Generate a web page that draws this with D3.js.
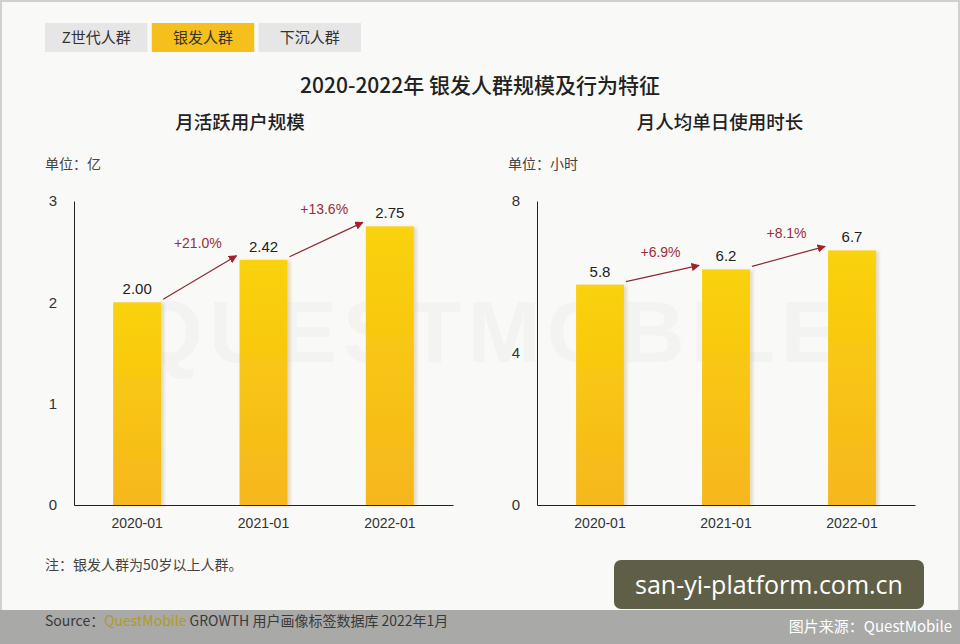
<!DOCTYPE html>
<html>
<head>
<meta charset="utf-8">
<script src="https://cdn.jsdelivr.net/npm/d3@7"></script>
<style>
  body { margin: 0; background: #f9f9f7; }
  svg { display: block; font-family: "Liberation Sans", "Noto Sans CJK SC", sans-serif; }
</style>
</head>
<body>
<div id="chart"></div>
<script>
// données
const tabs = ["Z世代人群", "银发人群", "下沉人群"];
const activeTab = "银发人群";
const years = ["2020-01", "2021-01", "2022-01"];
const mauValues = [2.00, 2.42, 2.75];
const mauGrowth = ["+21.0%", "+13.6%"];
const mauTicks = [0, 1, 2, 3];
const timeValues = [5.8, 6.2, 6.7];
const timeGrowth = ["+6.9%", "+8.1%"];
const timeTicks = [0, 4, 8];

const W = 960, H = 644;
const cjk = "\"Noto Sans CJK SC\", sans-serif";

const svg = d3.select("#chart").append("svg")
    .attr("width", W)
    .attr("height", H);

const defs = svg.append("defs");
const grad = defs.append("linearGradient")
    .attr("id", "barGrad")
    .attr("x1", 0).attr("y1", 0).attr("x2", 0).attr("y2", 1);
grad.append("stop").attr("offset", "0%").attr("stop-color", "#fad20a");
grad.append("stop").attr("offset", "100%").attr("stop-color", "#f6b71e");

defs.append("filter").attr("id", "shadow")
    .append("feDropShadow")
    .attr("dx", 3).attr("dy", 1).attr("stdDeviation", 1.5)
    .attr("flood-color", "#c9b88a").attr("flood-opacity", 0.45);

defs.append("marker")
    .attr("id", "arrow")
    .attr("viewBox", "0 0 10 10")
    .attr("refX", 9).attr("refY", 5)
    .attr("markerWidth", 7).attr("markerHeight", 7)
    .attr("orient", "auto")
    .append("path")
    .attr("d", "M0,0 L10,5 L0,10 Z")
    .attr("fill", "#a3202c");

// fond + cadre
svg.append("rect").attr("width", W).attr("height", H).attr("fill", "#f9f9f7");
svg.append("rect").attr("x", 1).attr("y", 1).attr("width", W - 2).attr("height", H - 2)
    .attr("fill", "none").attr("stroke", "#d0d0d0").attr("stroke-width", 2);

// filigrane (très pâle)
svg.append("text")
    .attr("x", 490).attr("y", 362)
    .attr("text-anchor", "middle")
    .attr("font-size", 88)
    .attr("font-weight", "bold")
    .attr("letter-spacing", 6)
    .attr("fill", "#f3f3f1")
    .text("QUESTMOBILE");

// onglets
const tabX = d3.scaleBand().domain(tabs).range([45, 361]).paddingInner(0.04);
svg.selectAll(".tab").data(tabs).enter().append("rect")
    .attr("x", d => tabX(d))
    .attr("y", 23)
    .attr("width", tabX.bandwidth())
    .attr("height", 29)
    .attr("fill", d => d === activeTab ? "#f5bf1c" : "#e6e6e6");
svg.selectAll(".tabLabel").data(tabs).enter().append("text")
    .attr("x", d => tabX(d) + tabX.bandwidth() / 2)
    .attr("y", 43)
    .attr("text-anchor", "middle")
    .attr("font-family", cjk)
    .attr("font-size", 15)
    .attr("fill", "#333")
    .text(d => d);

// titre
svg.append("text")
    .attr("x", 480).attr("y", 93)
    .attr("text-anchor", "middle")
    .attr("font-family", cjk)
    .attr("font-size", 21)
    .attr("font-weight", 500)
    .attr("fill", "#222")
    .text("2020-2022年 银发人群规模及行为特征");

function drawChart(opts) {
    const { x0, x1, titleX, unit, title, values, growth, ticks, fmt } = opts;
    const yTop = 201, yBottom = 505;

    svg.append("text")
        .attr("x", titleX).attr("y", 129)
        .attr("text-anchor", "middle")
        .attr("font-family", cjk)
        .attr("font-size", 18.5)
        .attr("font-weight", 500)
        .attr("fill", "#222")
        .text(title);

    svg.append("text")
        .attr("x", x0 - 29).attr("y", 169)
        .attr("font-family", cjk)
        .attr("font-size", 14)
        .attr("fill", "#444")
        .text(unit);

    const x = d3.scaleBand()
        .domain(years)
        .range([x0, x1])
        .paddingInner(0.62)
        .paddingOuter(0.31);

    const y = d3.scaleLinear()
        .domain([0, d3.max(ticks)])
        .range([yBottom, yTop]);

    // barres
    svg.append("g").selectAll("rect")
        .data(values)
        .enter().append("rect")
        .attr("x", (d, i) => x(years[i]))
        .attr("y", d => y(d))
        .attr("width", x.bandwidth())
        .attr("height", d => yBottom - y(d))
        .attr("fill", "url(#barGrad)")
        .attr("filter", "url(#shadow)");

    // axes
    const gy = svg.append("g")
        .attr("transform", `translate(${x0},0)`)
        .call(d3.axisLeft(y).tickValues(ticks).tickSize(0).tickPadding(17).tickFormat(d3.format("d")));
    gy.select(".domain").attr("stroke", "#222");
    gy.selectAll("text").attr("font-size", 15).attr("fill", "#333")
        .attr("font-family", "\"Liberation Sans\", sans-serif");

    const gx = svg.append("g")
        .attr("transform", `translate(0,${yBottom})`)
        .call(d3.axisBottom(x).tickSize(0).tickPadding(13));
    gx.select(".domain").attr("stroke", "#222");
    gx.selectAll("text").attr("font-size", 14).attr("fill", "#333")
        .attr("font-family", "\"Liberation Sans\", sans-serif");

    // valeurs
    svg.append("g").selectAll("text")
        .data(values)
        .enter().append("text")
        .attr("x", (d, i) => x(years[i]) + x.bandwidth() / 2)
        .attr("y", d => y(d) - 8)
        .attr("text-anchor", "middle")
        .attr("font-size", 15)
        .attr("fill", "#222")
        .text(d => fmt(d));

    // flèches de croissance
    growth.forEach((g, i) => {
        const xa = x(years[i]) + x.bandwidth() + 2;
        const xb = x(years[i + 1]) - 3;
        const ya = y(values[i]) - 3;
        const yb = y(values[i + 1]) - 4;
        svg.append("line")
            .attr("x1", xa).attr("y1", ya)
            .attr("x2", xb).attr("y2", yb)
            .attr("stroke", "#8e2a33")
            .attr("stroke-width", 1.2)
            .attr("marker-end", "url(#arrow)");
        svg.append("text")
            .attr("x", (xa + xb) / 2 - 2)
            .attr("y", Math.min(ya, yb) - 8)
            .attr("text-anchor", "middle")
            .attr("font-size", 14)
            .attr("fill", "#9b2d3a")
            .text(g);
    });
}

drawChart({
    x0: 74, x1: 453, titleX: 240, unit: "单位：亿", title: "月活跃用户规模",
    values: mauValues, growth: mauGrowth, ticks: mauTicks, fmt: d3.format(".2f")
});
drawChart({
    x0: 537, x1: 915, titleX: 720, unit: "单位：小时", title: "月人均单日使用时长",
    values: timeValues, growth: timeGrowth, ticks: timeTicks, fmt: d3.format(".1f")
});

// note
svg.append("text")
    .attr("x", 45).attr("y", 570)
    .attr("font-family", cjk)
    .attr("font-size", 14)
    .attr("fill", "#444")
    .text("注：银发人群为50岁以上人群。");

// bande du bas
svg.append("rect")
    .attr("x", 0).attr("y", 610)
    .attr("width", W).attr("height", 34)
    .attr("fill", "#a9a9a7");

const src = svg.append("text")
    .attr("x", 45).attr("y", 626)
    .attr("font-family", cjk)
    .attr("font-size", 14)
    .attr("fill", "#3a3a3a");
src.append("tspan").text("Source：");
src.append("tspan").attr("fill", "#b09a2a").text("QuestMobile");
src.append("tspan").text(" GROWTH 用户画像标签数据库 2022年1月");

svg.append("text")
    .attr("x", 952).attr("y", 632)
    .attr("text-anchor", "end")
    .attr("font-family", cjk)
    .attr("font-size", 15)
    .attr("fill", "#ffffff")
    .text("图片来源：QuestMobile");

// bloc du site
svg.append("rect")
    .attr("x", 614).attr("y", 560)
    .attr("width", 310).attr("height", 49)
    .attr("rx", 7)
    .attr("fill", "#5f5f48");
svg.append("text")
    .attr("x", 769).attr("y", 594)
    .attr("text-anchor", "middle")
    .attr("font-family", "\"Open Sans\", sans-serif")
    .attr("font-size", 25)
    .attr("fill", "#ffffff")
    .text("san-yi-platform.com.cn");
</script>
</body>
</html>
